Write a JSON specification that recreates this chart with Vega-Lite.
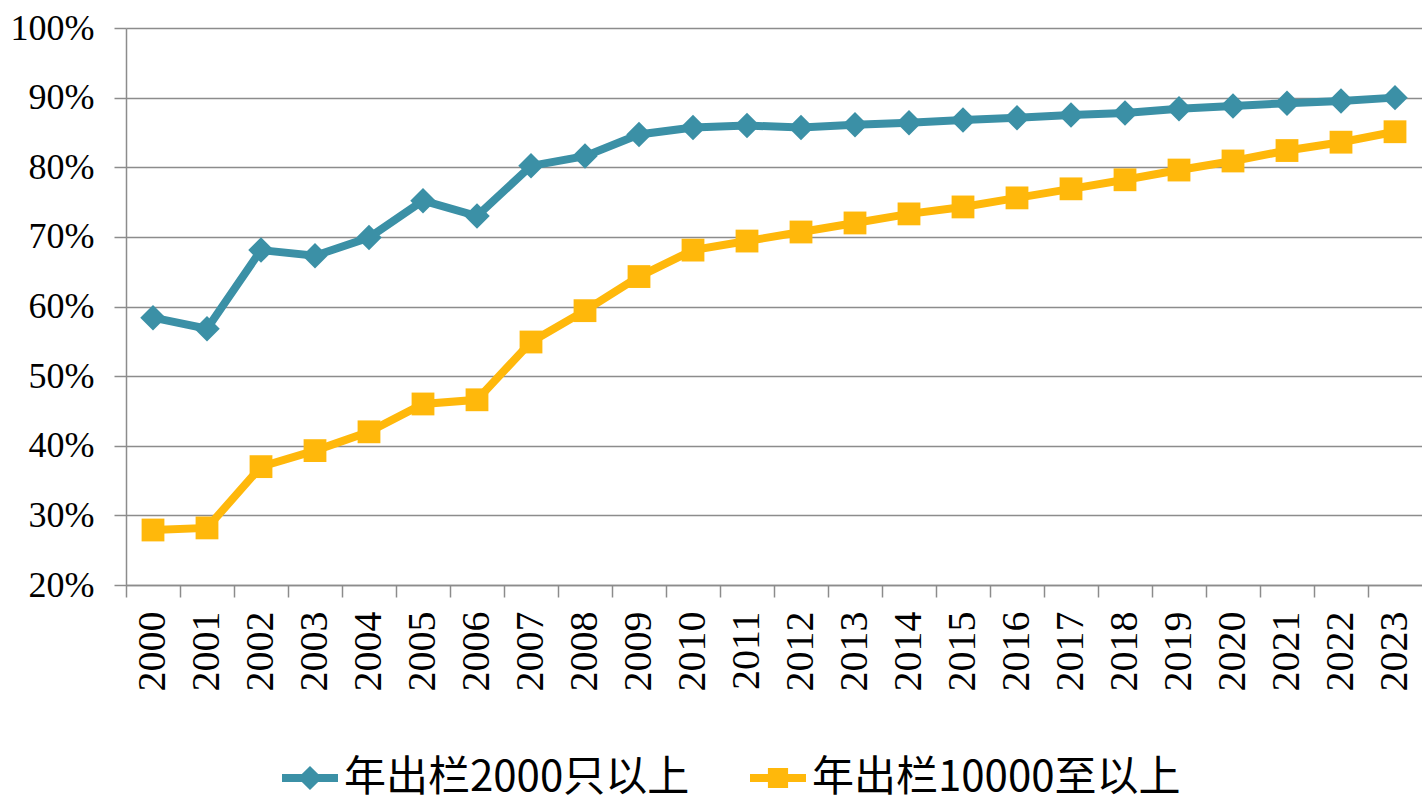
{
  "$schema": "https://vega.github.io/schema/vega-lite/v6.json",
  "width": 1296,
  "height": 557,
  "autosize": "none",
  "padding": {"left": 126, "top": 28, "right": 0, "bottom": 219},
  "background": "white",
  "config": {"view": {"stroke": null}},
  "data": {"values": [
    {"year": "2000", "series": "年出栏2000只以上", "share": 0.584},
    {"year": "2001", "series": "年出栏2000只以上", "share": 0.568},
    {"year": "2002", "series": "年出栏2000只以上", "share": 0.681},
    {"year": "2003", "series": "年出栏2000只以上", "share": 0.673},
    {"year": "2004", "series": "年出栏2000只以上", "share": 0.699},
    {"year": "2005", "series": "年出栏2000只以上", "share": 0.752},
    {"year": "2006", "series": "年出栏2000只以上", "share": 0.730},
    {"year": "2007", "series": "年出栏2000只以上", "share": 0.802},
    {"year": "2008", "series": "年出栏2000只以上", "share": 0.816},
    {"year": "2009", "series": "年出栏2000只以上", "share": 0.847},
    {"year": "2010", "series": "年出栏2000只以上", "share": 0.857},
    {"year": "2011", "series": "年出栏2000只以上", "share": 0.860},
    {"year": "2012", "series": "年出栏2000只以上", "share": 0.857},
    {"year": "2013", "series": "年出栏2000只以上", "share": 0.861},
    {"year": "2014", "series": "年出栏2000只以上", "share": 0.864},
    {"year": "2015", "series": "年出栏2000只以上", "share": 0.868},
    {"year": "2016", "series": "年出栏2000只以上", "share": 0.871},
    {"year": "2017", "series": "年出栏2000只以上", "share": 0.875},
    {"year": "2018", "series": "年出栏2000只以上", "share": 0.878},
    {"year": "2019", "series": "年出栏2000只以上", "share": 0.884},
    {"year": "2020", "series": "年出栏2000只以上", "share": 0.888},
    {"year": "2021", "series": "年出栏2000只以上", "share": 0.892},
    {"year": "2022", "series": "年出栏2000只以上", "share": 0.895},
    {"year": "2023", "series": "年出栏2000只以上", "share": 0.900},
    {"year": "2000", "series": "年出栏10000至以上", "share": 0.279},
    {"year": "2001", "series": "年出栏10000至以上", "share": 0.282},
    {"year": "2002", "series": "年出栏10000至以上", "share": 0.370},
    {"year": "2003", "series": "年出栏10000至以上", "share": 0.393},
    {"year": "2004", "series": "年出栏10000至以上", "share": 0.420},
    {"year": "2005", "series": "年出栏10000至以上", "share": 0.460},
    {"year": "2006", "series": "年出栏10000至以上", "share": 0.466},
    {"year": "2007", "series": "年出栏10000至以上", "share": 0.549},
    {"year": "2008", "series": "年出栏10000至以上", "share": 0.594},
    {"year": "2009", "series": "年出栏10000至以上", "share": 0.643},
    {"year": "2010", "series": "年出栏10000至以上", "share": 0.681},
    {"year": "2011", "series": "年出栏10000至以上", "share": 0.694},
    {"year": "2012", "series": "年出栏10000至以上", "share": 0.707},
    {"year": "2013", "series": "年出栏10000至以上", "share": 0.720},
    {"year": "2014", "series": "年出栏10000至以上", "share": 0.733},
    {"year": "2015", "series": "年出栏10000至以上", "share": 0.743},
    {"year": "2016", "series": "年出栏10000至以上", "share": 0.756},
    {"year": "2017", "series": "年出栏10000至以上", "share": 0.769},
    {"year": "2018", "series": "年出栏10000至以上", "share": 0.782},
    {"year": "2019", "series": "年出栏10000至以上", "share": 0.796},
    {"year": "2020", "series": "年出栏10000至以上", "share": 0.809},
    {"year": "2021", "series": "年出栏10000至以上", "share": 0.824},
    {"year": "2022", "series": "年出栏10000至以上", "share": 0.836},
    {"year": "2023", "series": "年出栏10000至以上", "share": 0.851}
  ]},
  "encoding": {
    "x": {
      "field": "year", "type": "ordinal", "bandPosition": 0.5,
      "scale": {"type": "band", "paddingInner": 0, "paddingOuter": 0},
      "axis": {
        "title": null, "grid": false, "bandPosition": 0, "labelOffset": 0,
        "labelAngle": -90, "labelAlign": "right", "labelBaseline": "middle",
        "labelFont": "Liberation Serif", "labelFontSize": 40, "labelColor": "#000000",
        "labelPadding": 14, "labelOverlap": false, "labelFlush": false,
        "tickSize": 12, "tickColor": "#8c8c8c", "tickWidth": 1.5,
        "domainColor": "#8c8c8c", "domainWidth": 1.5
      }
    },
    "y": {
      "field": "share", "type": "quantitative",
      "scale": {"domain": [0.2, 1.0], "nice": false, "zero": false},
      "axis": {
        "title": null, "values": [0.2, 0.3, 0.4, 0.5, 0.6, 0.7, 0.8, 0.9, 1.0], "format": ".0%",
        "labelFont": "Liberation Serif", "labelFontSize": 36, "labelColor": "#000000",
        "labelPadding": 20, "labelFlush": false,
        "tickSize": 12, "tickColor": "#8c8c8c", "tickWidth": 1.5,
        "grid": true, "gridColor": "#8c8c8c", "gridWidth": 1.5,
        "domainColor": "#8c8c8c", "domainWidth": 1.5
      }
    },
    "color": {
      "field": "series", "type": "nominal",
      "scale": {"domain": ["年出栏2000只以上", "年出栏10000至以上"], "range": ["#3B90A6", "#FFB80B"]},
      "legend": {
        "orient": "none", "legendX": 156, "legendY": 722, "direction": "horizontal", "title": null,
        "labelFont": "Noto Sans CJK SC", "labelFontSize": 42, "labelColor": "#000000", "labelLimit": 0,
        "symbolSize": 3136, "labelOffset": 6, "columnPadding": 60, "symbolStrokeWidth": 0,
        "encode": {"symbols": {"update": {
          "shape": {"signal": "datum.value === '年出栏2000只以上' ? 'M-1,-0.14L-0.29,-0.14L0,-0.43L0.29,-0.14L1,-0.14L1,0.14L0.29,0.14L0,0.43L-0.29,0.14L-1,0.14Z' : 'M-1,-0.14L-0.36,-0.14L-0.36,-0.36L0.36,-0.36L0.36,-0.14L1,-0.14L1,0.14L0.36,0.14L0.36,0.36L-0.36,0.36L-0.36,0.14L-1,0.14Z'"},
          "fill": {"signal": "datum.value === '年出栏2000只以上' ? '#3B90A6' : '#FFB80B'"},
          "stroke": {"value": "transparent"},
          "opacity": {"value": 1}
        }}}
      }
    }
  },
  "layer": [
    {"mark": {"type": "line", "strokeWidth": 8}},
    {
      "transform": [{"filter": "datum.series === '年出栏2000只以上'"}],
      "mark": {"type": "point", "filled": true, "opacity": 1, "shape": "diamond", "size": 650}
    },
    {
      "transform": [{"filter": "datum.series === '年出栏10000至以上'"}],
      "mark": {"type": "point", "filled": true, "opacity": 1, "shape": "square", "size": 520}
    }
  ]
}
